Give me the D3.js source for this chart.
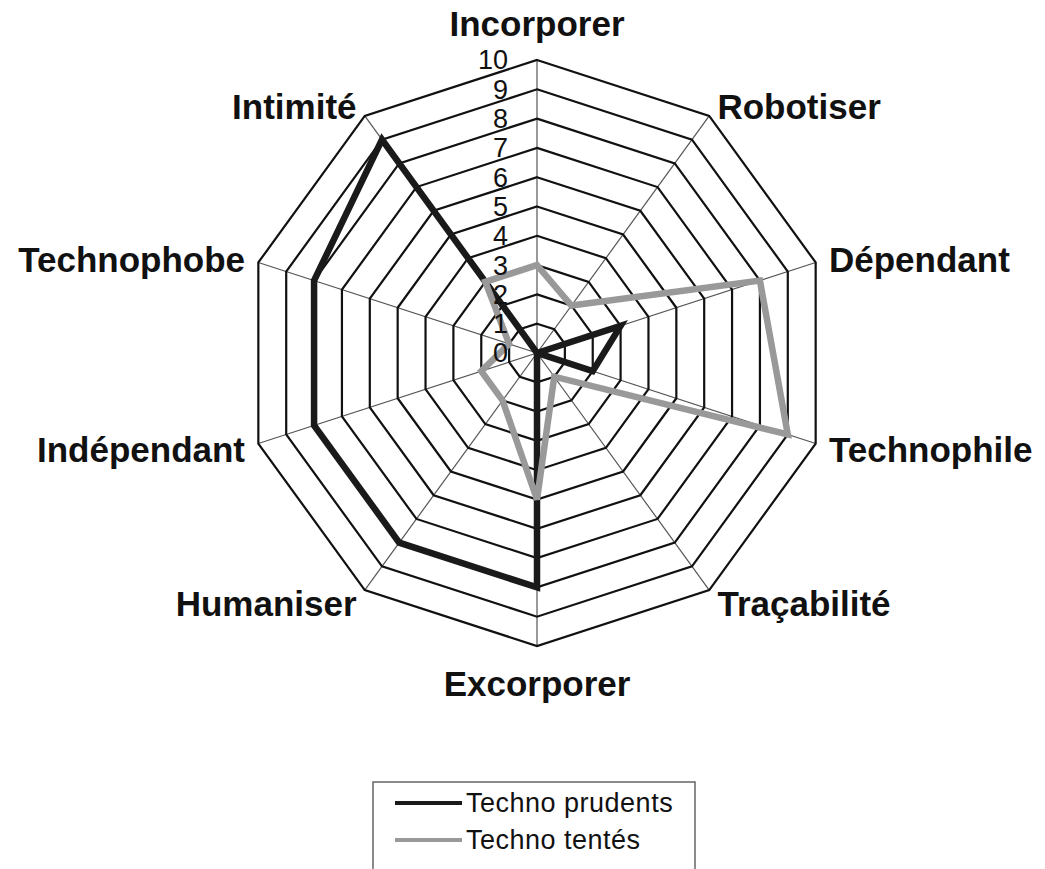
<!DOCTYPE html>
<html>
<head>
<meta charset="utf-8">
<script src="https://cdn.jsdelivr.net/npm/d3@7"></script>
<style>
  body { margin: 0; background: #fff; }
  svg { display: block; }
</style>
</head>
<body>
<div class="chart"></div>
<script>
// axes, clockwise from the top
const categories = ["Incorporer", "Robotiser", "Dépendant", "Technophile", "Traçabilité",
                    "Excorporer", "Humaniser", "Indépendant", "Technophobe", "Intimité"];
const prudents = [0, 0, 3, 2, 0, 8, 8, 8, 8, 9];
const tentes   = [3, 2, 8, 9, 1, 5, 2, 2, 1, 3];
const tickValues = [0, 1, 2, 3, 4, 5, 6, 7, 8, 9, 10];
const seriesNames = ["Techno prudents", "Techno tentés"];
const seriesColors = ["#1a1a1a", "#999999"];

let w = 1045;
let h = 869;
let cx = 537, cy = 353;
let R = 293;

let svg = d3.select(".chart")
    .append("svg")
    .attr("width", w)
    .attr("height", h);

let r = d3.scaleLinear().domain([0, 10]).range([0, R]);
let angle = d3.scaleLinear().domain([0, categories.length]).range([0, 2 * Math.PI]);

let g = svg.append("g").attr("transform", "translate(" + cx + "," + cy + ")");

function pt(i, v) {
    let a = angle(i);
    return [r(v) * Math.sin(a), -r(v) * Math.cos(a)];
}

// spokes
g.append("g")
    .selectAll("line")
    .data(categories)
    .enter().append("line")
    .attr("x1", 0).attr("y1", 0)
    .attr("x2", (d, i) => pt(i, 10)[0])
    .attr("y2", (d, i) => pt(i, 10)[1])
    .attr("stroke", "#555")
    .attr("stroke-width", 1.2);

// rings
g.append("g")
    .selectAll("path")
    .data(tickValues.filter(v => v > 0))
    .enter().append("path")
    .attr("d", v => d3.line()(categories.map((c, i) => pt(i, v))) + "Z")
    .attr("fill", "none")
    .attr("stroke", "#111")
    .attr("stroke-width", 2.2);

// series
let radial = d3.lineRadial()
    .angle((d, i) => angle(i))
    .radius(d => r(d))
    .curve(d3.curveLinearClosed);

[prudents, tentes].forEach(function (s, k) {
    g.append("path")
        .attr("d", radial(s))
        .attr("fill", "none")
        .attr("stroke", seriesColors[k])
        .attr("stroke-width", 6.5)
        .attr("stroke-linejoin", "miter");
});

// tick labels
g.append("g")
    .selectAll("text")
    .data(tickValues)
    .enter().append("text")
    .attr("x", -29)
    .attr("y", d => -r(d))
    .attr("dy", "0.35em")
    .attr("text-anchor", "end")
    .attr("font-family", "Liberation Sans, Arial, sans-serif")
    .attr("font-size", "27px")
    .attr("fill", "#111")
    .text(d => d);

// category labels
g.append("g")
    .selectAll("text")
    .data(categories)
    .enter().append("text")
    .attr("x", function (d, i) {
        if (i % 5 == 0) return 0;
        return (R + 14) * Math.sin(angle(i));
    })
    .attr("y", function (d, i) {
        if (i == 0) return -(R + 36);
        if (i == 5) return R + 38;
        return -(R + 14) * Math.cos(angle(i)) + 2;
    })
    .attr("dy", "0.35em")
    .attr("text-anchor", function (d, i) {
        if (i % 5 == 0) return "middle";
        return i < 5 ? "start" : "end";
    })
    .attr("font-family", "Liberation Sans, Arial, sans-serif")
    .attr("font-weight", "bold")
    .attr("font-size", "35px")
    .attr("fill", "#111")
    .text(d => d);

// legend
let legend = svg.append("g").attr("transform", "translate(373,782)");
legend.append("rect")
    .attr("x", 0).attr("y", 0)
    .attr("width", 322).attr("height", 100)
    .attr("fill", "none")
    .attr("stroke", "#666")
    .attr("stroke-width", 1.5);

let item = legend.selectAll(".item")
    .data(seriesNames)
    .enter().append("g")
    .attr("class", "item")
    .attr("transform", (d, i) => "translate(0," + (21 + i * 37) + ")");

item.append("line")
    .attr("x1", 22).attr("x2", 89)
    .attr("y1", 0).attr("y2", 0)
    .attr("stroke", (d, i) => seriesColors[i])
    .attr("stroke-width", 4);

item.append("text")
    .attr("x", 93)
    .attr("y", 0)
    .attr("dy", "0.35em")
    .attr("font-family", "Liberation Sans, Arial, sans-serif")
    .attr("font-size", "27px")
    .attr("letter-spacing", "0.5px")
    .attr("fill", "#111")
    .text(d => d);
</script>
</body>
</html>
